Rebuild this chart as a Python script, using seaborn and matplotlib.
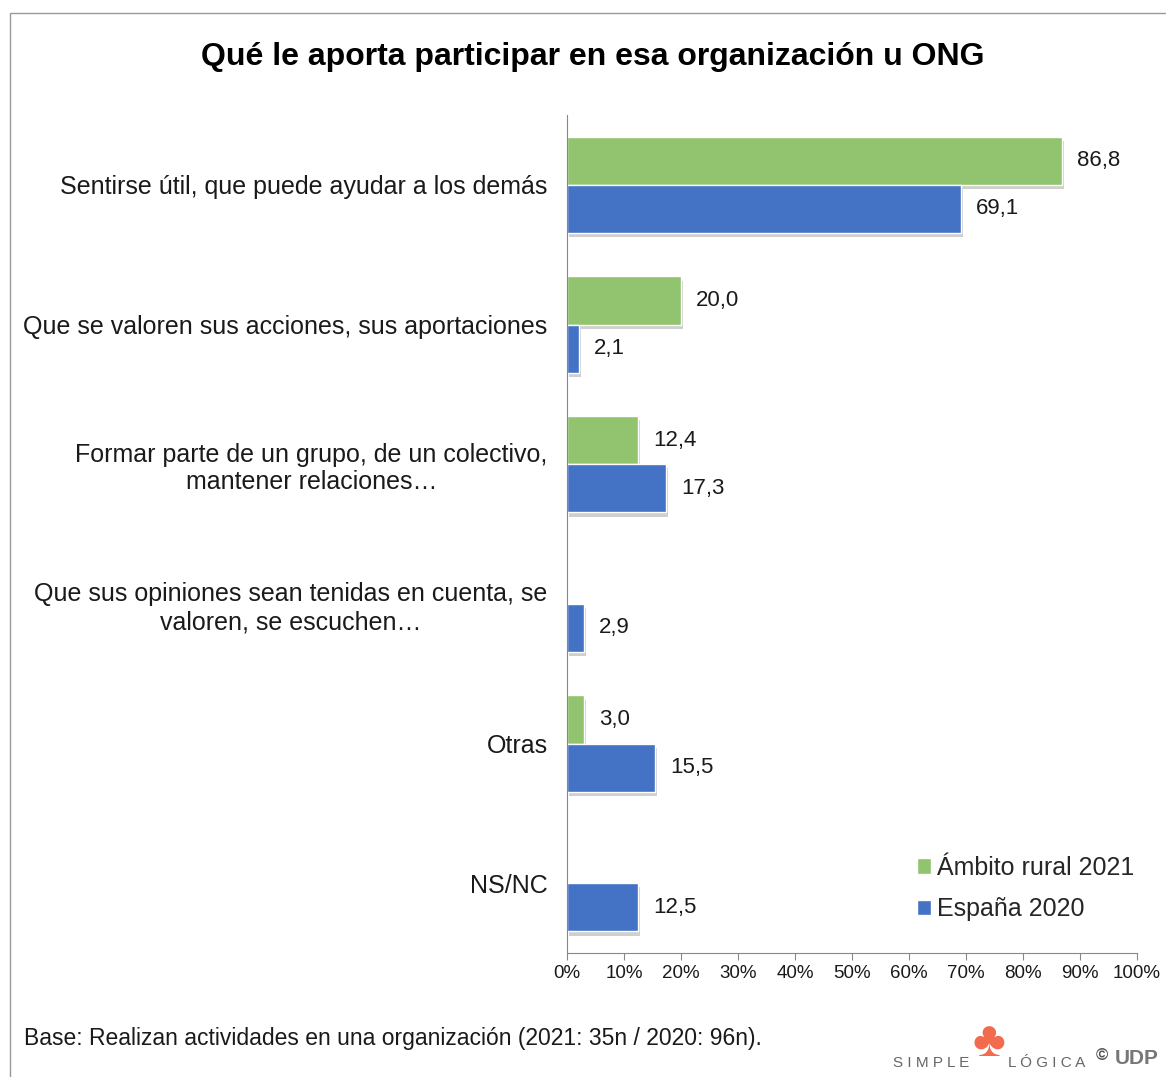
import numpy as np
import pandas as pd
import matplotlib.pyplot as plt
import matplotlib.patheffects as pe
from matplotlib.patches import Rectangle
import seaborn as sns

categories = [
    "Sentirse útil, que puede ayudar a los demás",
    "Que se valoren sus acciones, sus aportaciones",
    "Formar parte de un grupo, de un colectivo,\nmantener relaciones…",
    "Que sus opiniones sean tenidas en cuenta, se\nvaloren, se escuchen…",
    "Otras",
    "NS/NC",
]
series = ["Ámbito rural 2021", "España 2020"]
rural_2021 = [86.8, 20.0, 12.4, np.nan, 3.0, np.nan]
espana_2020 = [69.1, 2.1, 17.3, 2.9, 15.5, 12.5]
x_ticks = [0, 10, 20, 30, 40, 50, 60, 70, 80, 90, 100]

colors = ["#92C46F", "#4472C4"]

sns.set_style("white")
plt.rcParams["font.family"] = ["Liberation Sans", "DejaVu Sans"]

df = pd.DataFrame({
    "cat": categories * 2,
    "serie": [series[0]] * len(categories) + [series[1]] * len(categories),
    "valor": rural_2021 + espana_2020,
})

fig = plt.figure(figsize=(11.66, 10.77), dpi=100)
ax = fig.add_axes([0.4863, 0.1151, 0.4888, 0.7781])

sns.barplot(data=df, y="cat", x="valor", hue="serie", hue_order=series,
            order=categories, palette=colors, orient="h", width=0.69,
            saturation=1, ax=ax, legend=True)

# sombra suave debajo de las barras
for bar in ax.patches:
    bar.set_path_effects([pe.SimplePatchShadow(offset=(1.5, -3), shadow_rgbFace="#777777",
                                               alpha=0.35),
                          pe.Normal()])

for cont in ax.containers:
    labels = []
    for bar in cont:
        w = bar.get_width()
        labels.append("" if np.isnan(w) or w == 0 else ("%.1f" % w).replace(".", ","))
    ax.bar_label(cont, labels=labels, padding=11, fontsize=16, color="#1a1a1a",
                 bbox=dict(facecolor="white", edgecolor="none", pad=1))

ax.set_xlim(0, 100)
ax.set_xticks(x_ticks)
ax.set_xticklabels(["%d%%" % t for t in x_ticks])
ax.set_xlabel("")
ax.set_ylabel("")
ax.tick_params(axis="x", labelsize=13.5, length=5, color="#888888", direction="out",
               bottom=True, labelcolor="#1a1a1a")
ax.tick_params(axis="y", labelsize=18, length=0, pad=14, labelcolor="#1a1a1a")
for lab in ax.get_yticklabels():
    lab.set_multialignment("center")

sns.despine(ax=ax, top=True, right=True)
ax.spines["left"].set_color("#888888")
ax.spines["bottom"].set_color("#888888")

leg = ax.legend(loc="lower right", bbox_to_anchor=(1.035, 0.011), frameon=False,
                fontsize=18, handlelength=0.55, handleheight=0.55, handletextpad=0.25,
                labelspacing=0.7)
for h in leg.legend_handles:
    h.set_path_effects([])

fig.text(0.508, 0.947, "Qué le aporta participar en esa organización u ONG",
         ha="center", va="center", fontsize=23, fontweight="bold", color="black")
fig.text(0.021, 0.036, "Base: Realizan actividades en una organización (2021: 35n / 2020: 96n).",
         ha="left", va="center", fontsize=16.5, color="#1a1a1a")

# logo aproximado
fig.text(893 / 1166, 1 - 1063 / 1077, "S I M P L E", ha="left", va="center",
         fontsize=11, color="#666666")
fig.text(1008 / 1166, 1 - 1063 / 1077, "L Ó G I C A", ha="left", va="center",
         fontsize=11, color="#666666")
fig.text(989 / 1166, 1 - 1043 / 1077, "♣", ha="center", va="center",
         fontsize=36, color="#F26B4F")
fig.text(1096 / 1166, 1 - 1056 / 1077, "©", ha="left", va="center",
         fontsize=12, fontweight="bold", color="#555555")
fig.text(1115 / 1166, 1 - 1059 / 1077, "UDP", ha="left", va="center",
         fontsize=15, fontweight="bold", color="#777777")

fig.patches.append(Rectangle((10 / 1166, -0.01), 1.1, 1064 / 1077 + 0.01,
                             transform=fig.transFigure, fill=False,
                             edgecolor="#999999", linewidth=1))

fig.savefig("out.png", dpi=100)
